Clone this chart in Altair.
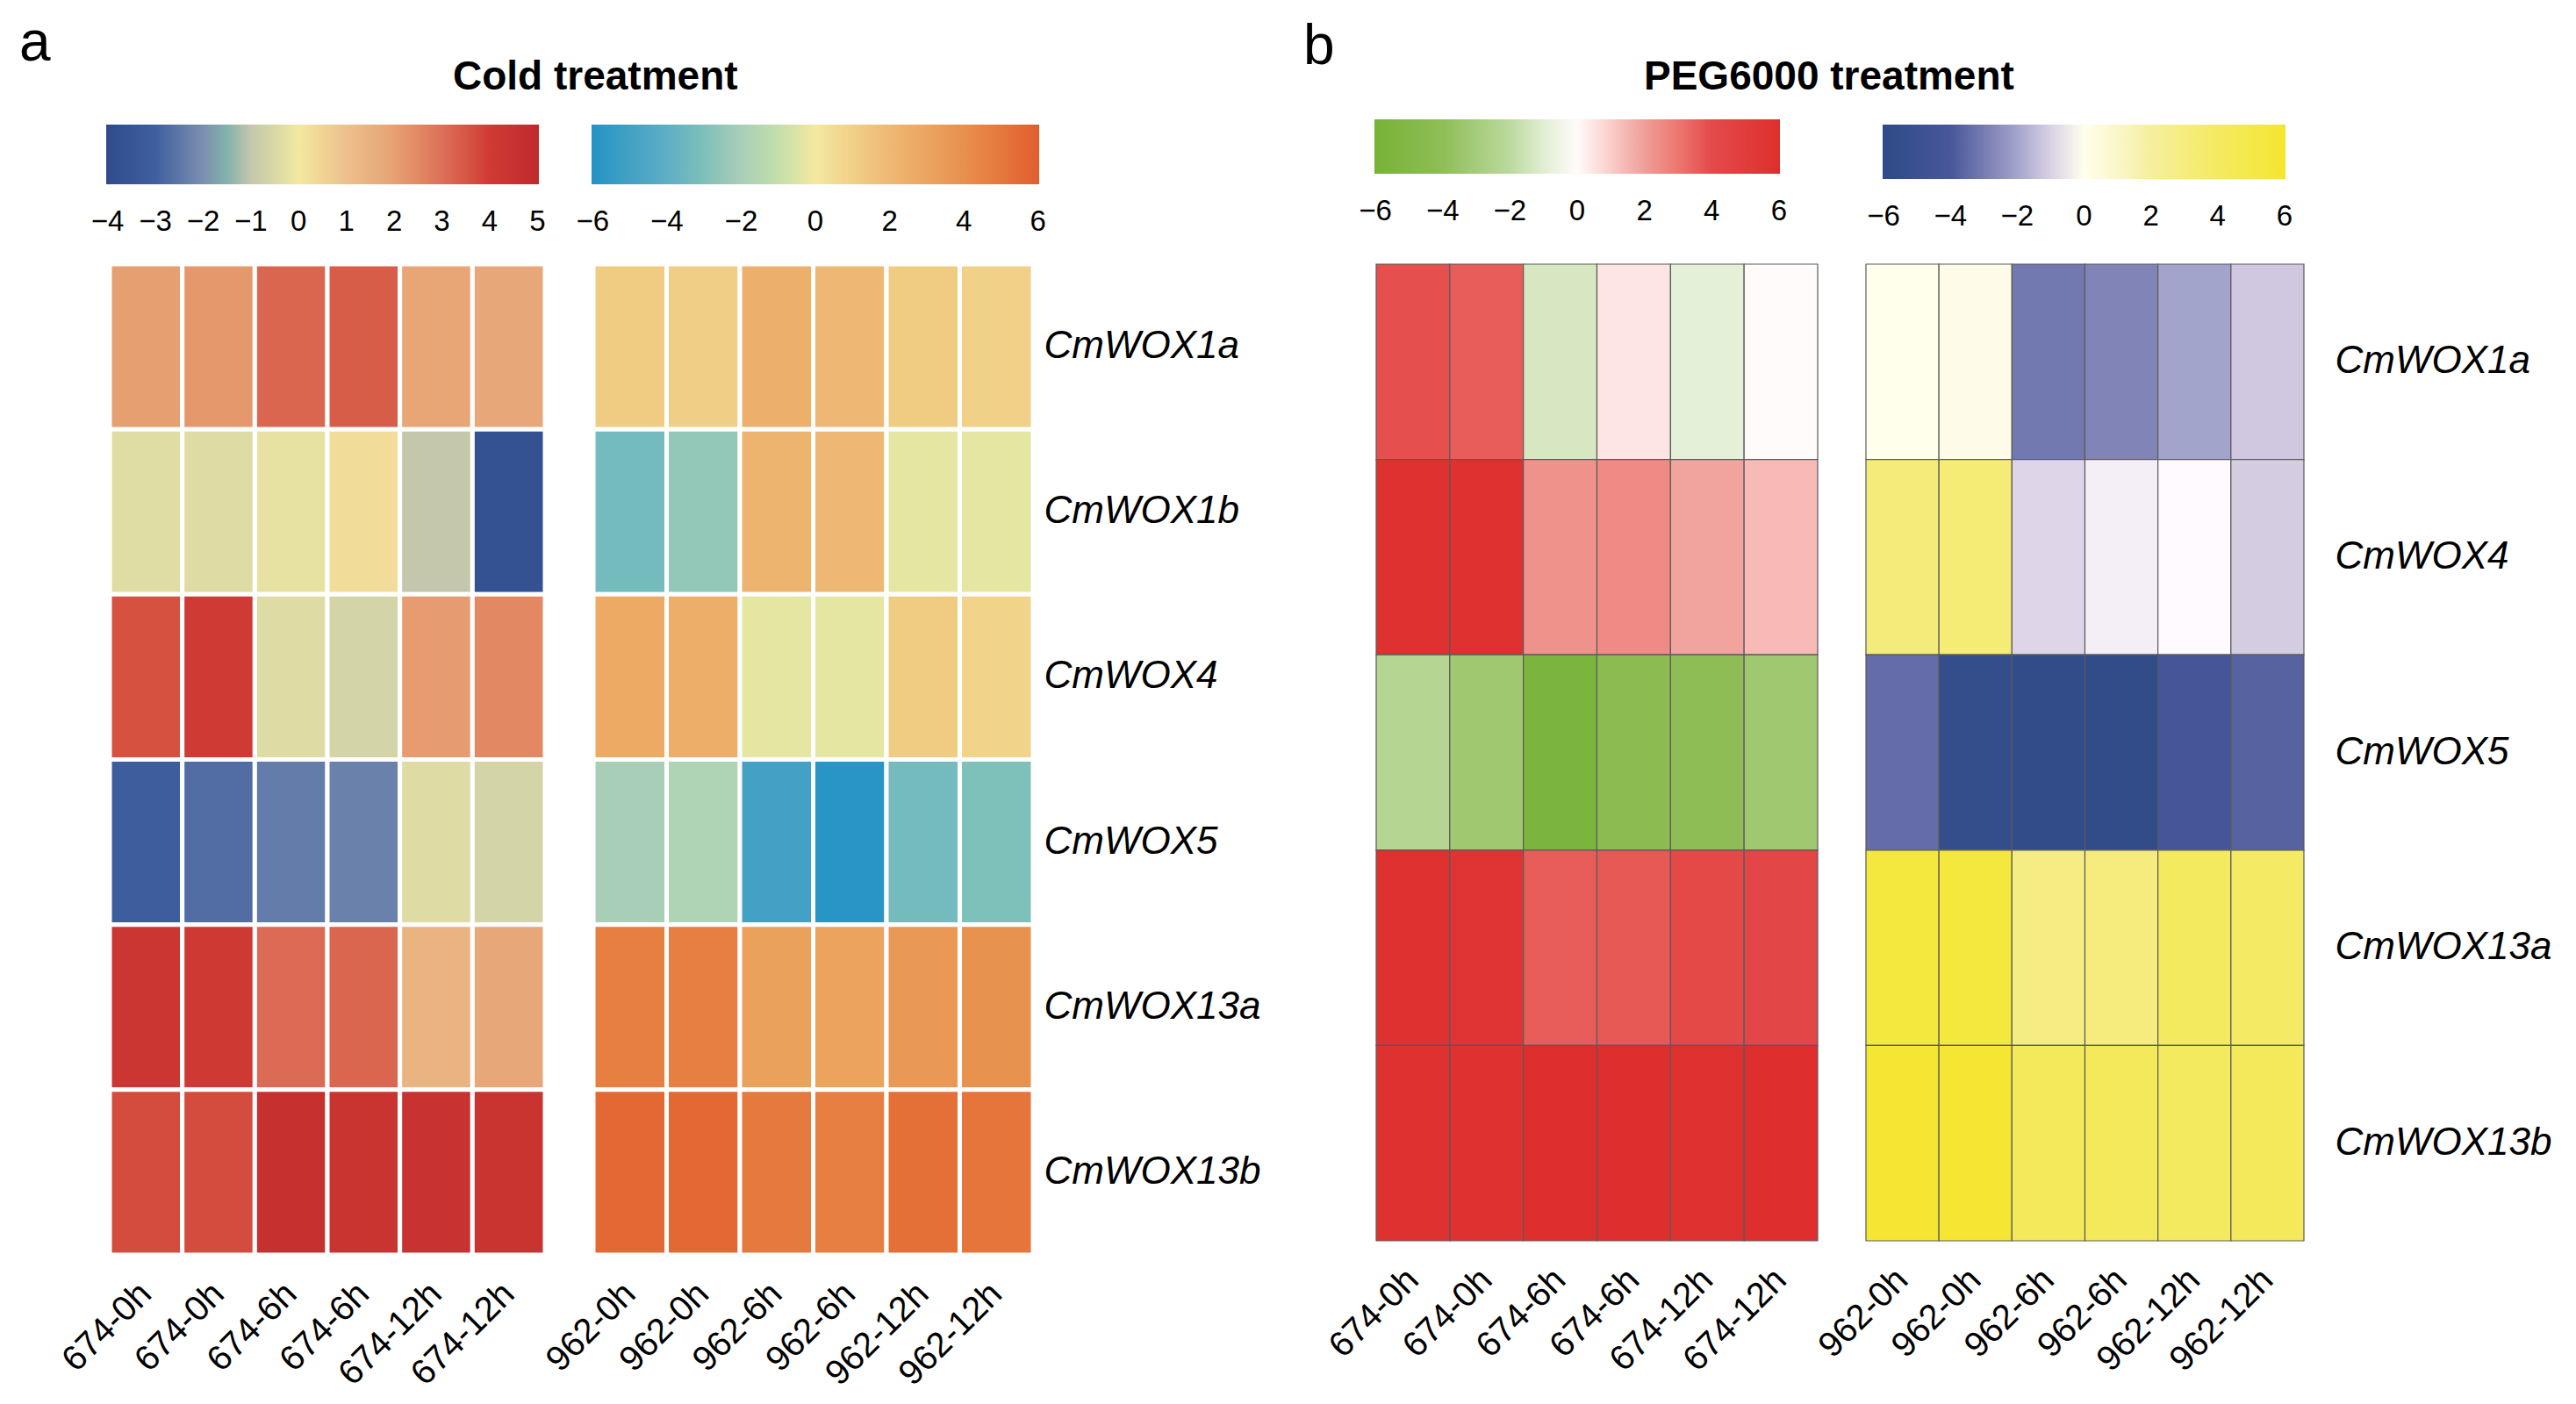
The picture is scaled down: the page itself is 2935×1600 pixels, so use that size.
import altair as alt
import pandas as pd

FONT = "Liberation Sans"

genes_cold = ["CmWOX1a", "CmWOX1b", "CmWOX4", "CmWOX5", "CmWOX13a", "CmWOX13b"]
genes_peg = ["CmWOX1a", "CmWOX4", "CmWOX5", "CmWOX13a", "CmWOX13b"]
cols_674 = ["674-0h", "674-0h", "674-6h", "674-6h", "674-12h", "674-12h"]
cols_962 = ["962-0h", "962-0h", "962-6h", "962-6h", "962-12h", "962-12h"]

cold_674 = [
    [2.05, 2.2, 3.2, 3.4, 1.85, 1.8],
    [-0.35, -0.4, -0.2, 0.3, -1.0, -3.7],
    [3.6, 4.0, -0.4, -0.6, 2.1, 2.5],
    [-3.1, -2.7, -2.4, -2.3, -0.4, -0.6],
    [4.3, 4.1, 3.1, 3.2, 1.4, 1.8],
    [3.7, 3.7, 4.6, 4.4, 4.5, 4.4],
]
cold_962 = [
    [1.2, 1.1, 2.4, 2.0, 1.2, 1.0],
    [-3.3, -2.5, 2.2, 2.0, -0.3, -0.3],
    [2.7, 2.5, -0.3, -0.3, 1.2, 0.9],
    [-2.0, -1.7, -5.0, -5.9, -3.3, -3.0],
    [4.7, 4.7, 3.2, 3.1, 3.6, 3.9],
    [5.6, 5.6, 4.9, 4.7, 5.3, 5.1],
]
peg_674 = [
    [3.9, 3.6, -1.3, 0.5, -0.9, 0.0],
    [5.9, 5.9, 2.3, 2.5, 1.9, 1.4],
    [-2.3, -3.3, -5.6, -4.3, -4.1, -3.3],
    [5.9, 5.7, 3.6, 3.7, 4.2, 4.3],
    [5.9, 5.9, 6.0, 6.0, 5.9, 6.0],
]
peg_962 = [
    [0.0, 0.2, -3.1, -2.8, -2.0, -1.2],
    [3.2, 3.4, -0.9, -0.4, -0.1, -1.1],
    [-3.4, -5.6, -5.7, -5.7, -4.2, -3.7],
    [5.5, 5.5, 2.9, 3.1, 4.0, 3.9],
    [5.9, 5.9, 4.3, 4.3, 4.0, 4.3],
]

# colour stops (domain ends padded a hair so the end labels stay centred)
cold674_dom = [-4.03, -3, -2, -1, 0, 1, 2, 3, 4, 5.03]
cold674_rng = ["#2f4a8b", "#3f5f9e", "#7b8fb0", "#c4c7ab", "#f2e8a0",
               "#ecc08d", "#e7a173", "#dc7058", "#d03a34", "#bf2a2d"]
cold962_dom = [-6.03, -4, -2, 0, 2, 4, 6.03]
cold962_rng = ["#2393c6", "#5eaec5", "#a9ceb8", "#f4e8a0", "#eeb874", "#e8904e", "#e25c2e"]
peg674_dom = [-6.03, -4, -2, -0.35, 0, 0.35, 2, 4, 6.03]
peg674_rng = ["#77b236", "#8fbe56", "#bcd99e", "#f8fbf4", "#ffffff", "#fdeceb",
              "#f09e98", "#e44a4a", "#de2f2e"]
peg962_dom = [-6.03, -4, -2, -0.35, 0, 0.35, 2, 4, 6.03]
peg962_rng = ["#2e4a87", "#48579a", "#a3a4cb", "#f6f2f8", "#ffffff", "#fcfae6",
              "#f5ef9e", "#f4ea60", "#f4e62e"]

ticks_cold674 = [-4, -3, -2, -1, 0, 1, 2, 3, 4, 5]
ticks_six = [-6, -4, -2, 0, 2, 4, 6]


def heat(values, genes, cols, dom, rng, tick_vals, width, height,
         lx, ly, glen, gthick, stroke, sw, show_y, ypad, title):
    df = pd.DataFrame([
        {"gene": g, "col": j, "value": values[i][j]}
        for i, g in enumerate(genes) for j in range(len(cols))
    ])
    label_expr = "[" + ",".join("'%s'" % c for c in cols) + "][datum.value]"
    x = alt.X("col:O", axis=alt.Axis(
        labelExpr=label_expr, labelAngle=-45, labelAlign="right",
        labelBaseline="middle", labelFontSize=40, labelFont=FONT,
        labelPadding=38, ticks=False, domain=False, title=None,
        labelColor="black"))
    if show_y:
        y = alt.Y("gene:N", sort=genes, axis=alt.Axis(
            orient="right", labelFontSize=44, labelFont=FONT,
            labelFontStyle="italic", ticks=False, domain=False, title=None,
            labelPadding=ypad, labelColor="black", labelLimit=600))
    else:
        y = alt.Y("gene:N", sort=genes, axis=None)
    color = alt.Color("value:Q", scale=alt.Scale(domain=dom, range=rng, clamp=True),
                      legend=alt.Legend(
                          orient="none", legendX=lx, legendY=ly,
                          direction="horizontal", gradientLength=glen,
                          gradientThickness=gthick, values=tick_vals, title=None,
                          labelFontSize=33, labelFont=FONT, labelAlign="center",
                          labelOffset=27, labelOverlap=False,
                          gradientStrokeWidth=0, labelColor="black"))
    return alt.Chart(df).mark_rect(stroke=stroke, strokeWidth=sw).encode(
        x=x, y=y, color=color
    ).properties(width=width, height=height, title=title)


t_a = alt.TitleParams("a", anchor="start", frame="group", dx=-103, offset=60,
                      fontSize=64, fontWeight="normal", font=FONT, color="black")
t_cold = alt.TitleParams("Cold treatment", anchor="start", frame="group", dx=-160,
                         offset=30, fontSize=46, fontWeight="bold", font=FONT,
                         color="black")
t_b = alt.TitleParams("b", anchor="start", frame="group", dx=-83, offset=50,
                      fontSize=64, fontWeight="normal", font=FONT, color="black")
t_peg = alt.TitleParams("PEG6000 treatment", anchor="start", frame="group", dx=-253,
                        offset=30, fontSize=46, fontWeight="bold", font=FONT,
                        color="black")

h1 = heat(cold_674, genes_cold, cols_674, cold674_dom, cold674_rng, ticks_cold674,
          496, 1129, -4, -159, 493, 68, "white", 5, False, 0, t_a)
h2 = heat(cold_962, genes_cold, cols_962, cold962_dom, cold962_rng, ticks_six,
          501, 1129, -2, -159, 510, 68, "white", 5, True, 12, t_cold)
h3 = heat(peg_674, genes_peg, cols_674, peg674_dom, peg674_rng, ticks_six,
          503, 1113, -2, -165, 462, 62, "#5a5a5a", 1.2, False, 0, t_b)
h4 = heat(peg_962, genes_peg, cols_962, peg962_dom, peg962_rng, ticks_six,
          499, 1113, 19, -159, 459, 62, "#5a5a5a", 1.2, True, 35, t_peg)

spacer = alt.Chart(pd.DataFrame({"v": [0]})).mark_point(opacity=0).encode(
    x=alt.X("v:Q", axis=None), y=alt.Y("v:Q", axis=None)
).properties(width=281, height=1129)

chart = alt.hconcat(h1, h2, spacer, h3, h4, spacing=55, bounds="flush").resolve_scale(
    color="independent", x="independent", y="independent"
).resolve_legend(color="independent").properties(
    padding={"left": 14, "top": 10, "right": 5, "bottom": 5},
    background="white"
).configure_view(strokeWidth=0)

chart.save("out.html", embed_options={"renderer": "svg", "actions": False})
